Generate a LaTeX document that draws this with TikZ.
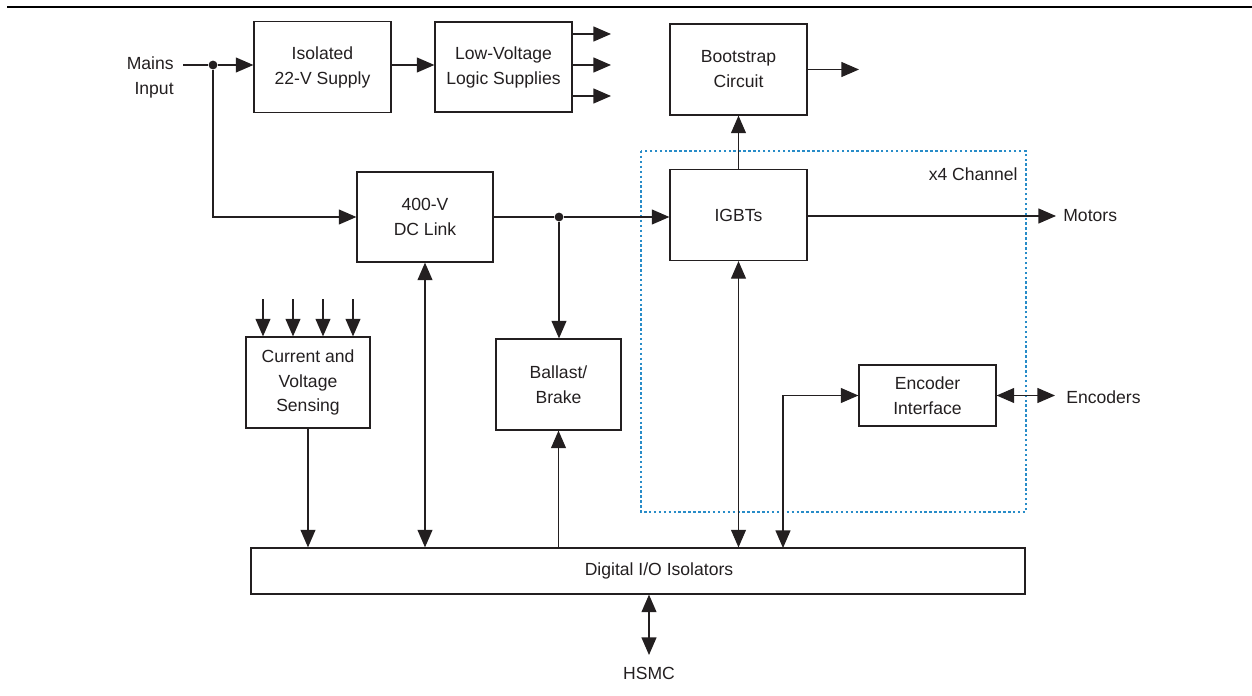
\documentclass[tikz,border=0pt]{standalone}
\usepackage{fontspec}
\setmainfont{Liberation Sans}
\usetikzlibrary{arrows.meta,calc}
\definecolor{ink}{RGB}{35,31,32}
\definecolor{chanblue}{RGB}{40,140,200}
\tikzset{
  wire/.style={draw=ink, line width=0.7pt},
  tip/.style={-{Triangle[length=10pt,width=8.5pt]}},
  tipboth/.style={{Triangle[length=10pt,width=8.5pt]}-{Triangle[length=10pt,width=8.5pt]}},
  box/.style={draw=ink, line width=0.7pt, inner sep=0pt, align=center,
    font=\fontsize{10}{14.2}\selectfont, text=ink},
  lbl/.style={inner sep=0pt, font=\fontsize{10}{14.2}\selectfont, text=ink},
  junction/.style={circle, fill=ink, inner sep=0pt, minimum size=5pt},
}
\begin{document}
\begin{tikzpicture}[x=0.02cm, y=-0.02cm]
\useasboundingbox (0,0) rectangle (1252,696);

% header rule
\fill[black] (7,5.8) rectangle (1252,8.4);

% channel grouping
\draw[chanblue, line width=0.8pt, dash pattern=on 1.4pt off 1.4pt] (641,151) rectangle (1026,512);
\node[lbl, anchor=east] (chan) at (1018,174) {x4 Channel};

% blocks
\node[box, minimum width=2.74cm, minimum height=1.82cm] (iso) at (322.5,67) {Isolated\\22-V Supply};
\node[box, minimum width=2.74cm, minimum height=1.80cm] (lv) at (503.5,67) {Low-Voltage\\Logic Supplies};
\node[box, minimum width=2.74cm, minimum height=1.82cm] (boot) at (738.5,69.5) {Bootstrap\\Circuit};
\node[box, minimum width=2.72cm, minimum height=1.80cm] (dc) at (425,217) {400-V\\DC Link};
\node[box, minimum width=2.74cm, minimum height=1.82cm] (igbt) at (738.5,215) {IGBTs};
\node[box, minimum width=2.48cm, minimum height=1.82cm] (sense) at (308,382.5) {Current and\\Voltage\\Sensing};
\node[box, minimum width=2.50cm, minimum height=1.82cm] (ballast) at (558.5,384.5) {Ballast/\\Brake};
\node[box, minimum width=2.74cm, minimum height=1.22cm] (enc) at (927.5,395.5) {Encoder\\Interface};
\node[box, minimum width=15.48cm, minimum height=0.92cm] (dio) at (638,571) {};
\node[lbl] (diotext) at (659,571) {Digital I/O Isolators};

% external labels
\node[lbl, anchor=east, align=right] (mains) at (174,77.5) {Mains\\Input};
\node[lbl, anchor=west] (motors) at (1063,216) {Motors};
\node[lbl, anchor=west] (encs) at (1066,397) {Encoders};
\node[lbl] (hsmc) at (649,673) {HSMC};

% mains distribution
\coordinate (mstart) at (183,65);
\node[junction] (j1) at (213,65) {};
\draw[wire] (mstart) -- (j1);
\draw[wire, tip] (j1) -- (j1 -| iso.west);
\draw[wire, tip] (j1) |- (dc.west);
\draw[wire, tip] (iso.east |- j1) -- (lv.west |- j1);

% logic supply outputs
\foreach \yy/\nm in {34/o1, 65/o2, 96/o3}{
  \coordinate (\nm) at (611,\yy);
  \draw[wire, tip] (lv.east |- \nm) -- (\nm);
}

% bootstrap
\coordinate (bout) at (859,69.5);
\draw[wire, tip] (boot.east) -- (bout);
\draw[wire, tip] (igbt.north) -- (boot.south);

% DC link to IGBTs and brake
\node[junction] (j2) at (559,217) {};
\draw[wire] (dc.east) -- (j2);
\draw[wire, tip] (j2) -- (j2 -| igbt.west);
\draw[wire, tip] (j2) -- (j2 |- ballast.north);

% motors
\coordinate (mot) at (1056,216);
\draw[wire, tip] (igbt.east |- mot) -- (mot);

% sensing inputs
\foreach \xx/\nm in {263/s1, 293/s2, 323/s3, 353/s4}{
  \coordinate (\nm) at (\xx,299);
  \draw[wire, tip] (\nm) -- (\nm |- sense.north);
}

% links to the isolator bar
\draw[wire, tip] (sense.south) -- (sense.south |- dio.north);
\draw[wire, tipboth] (dc.south) -- (dc.south |- dio.north);
\draw[wire, tip] (ballast.south |- dio.north) -- (ballast.south);
\draw[wire, tipboth] (igbt.south) -- (igbt.south |- dio.north);
\coordinate (encbus) at (783,548);
\draw[wire, tipboth] (encbus) |- (enc.west);

% encoders
\coordinate (encout) at (1055,395.5);
\draw[wire, tipboth] (enc.east) -- (encout);

% host connector
\coordinate (hs) at (649,655);
\draw[wire, tipboth] (hs |- dio.south) -- (hs);
\end{tikzpicture}
\end{document}
